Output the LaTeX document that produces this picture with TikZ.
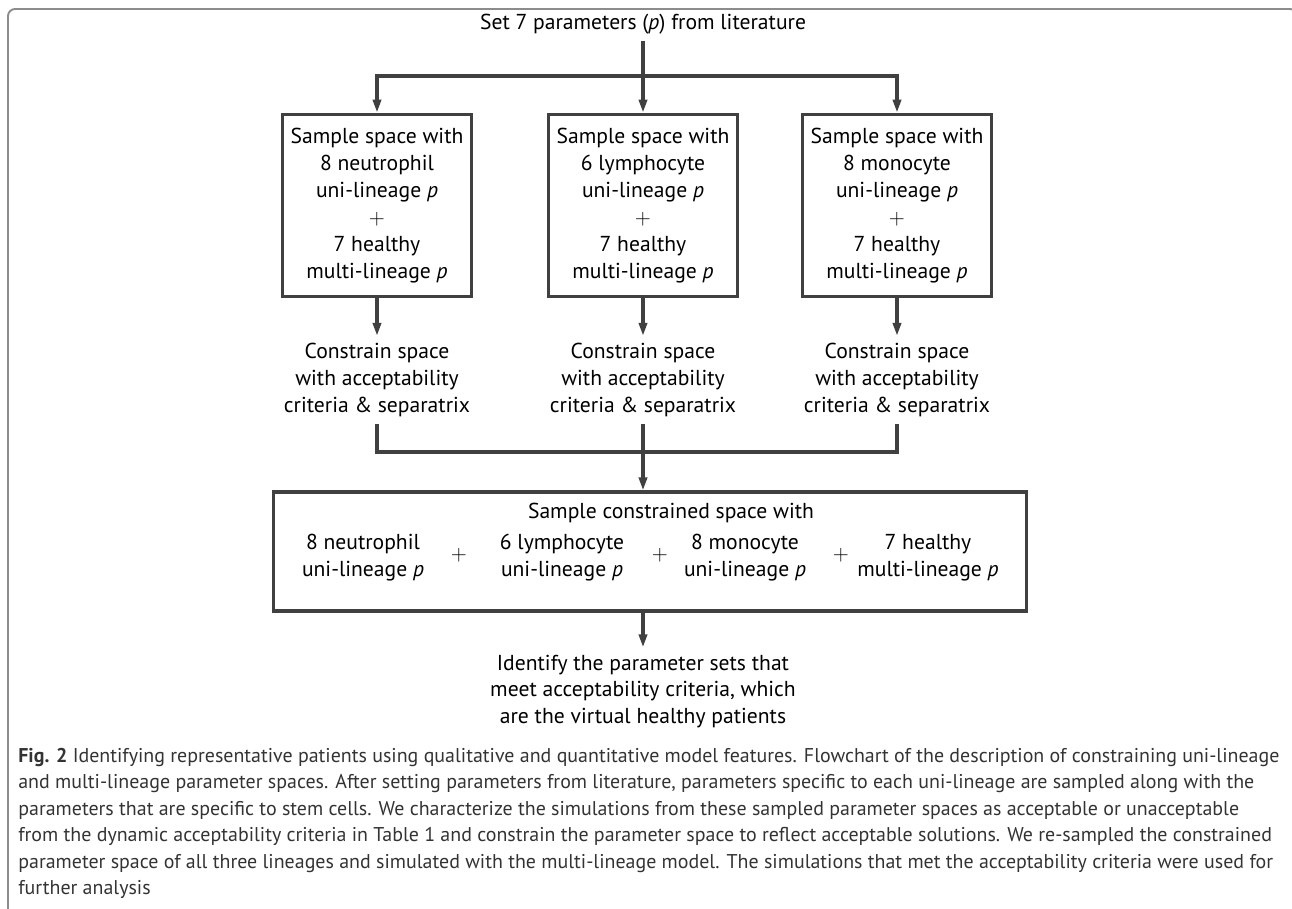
\documentclass[tikz,border=0pt]{standalone}
\usepackage{fontspec}
\setmainfont{PT Sans}
\usetikzlibrary{arrows.meta}
\definecolor{ln}{HTML}{404040}
\definecolor{fr}{HTML}{8C8C8C}
\tikzset{every node/.style={inner sep=4pt,align=center,font=\fontsize{12.3}{15.3}\selectfont}}
\tikzset{box/.style={rectangle,draw=ln,line width=2pt,minimum width=107.7pt,minimum height=103.7pt}}
\tikzset{link/.style={draw=ln,line width=1.9pt}}
\tikzset{arr/.style={link,-{Triangle[length=7.4pt,width=4.6pt]}}}
\tikzset{figcap/.style={align=left,inner sep=0pt,text=black!80,font=\fontsize{11.35}{15}\selectfont}}

\begin{document}
\begin{tikzpicture}[x=0.02cm,y=-0.02cm]
  \useasboundingbox (0,0) rectangle (1292,909);
  \draw[fr,line width=1.1pt,rounded corners=4pt] (8,920) -- (8,9) -- (1297,9) -- (1297,920);
      \node (set) at (643,24) {Set 7 parameters (\textit{p}) from literature};
      \node[box] (bn) at (377,205.5) {Sample space with\\8 neutrophil\\uni-lineage \textit{p}\\$+$\\7 healthy\\multi-lineage \textit{p}};
      \node[box] (bl) at (643,205.5) {Sample space with\\6 lymphocyte\\uni-lineage \textit{p}\\$+$\\7 healthy\\multi-lineage \textit{p}};
      \node[box] (bm) at (897,205.5) {Sample space with\\8 monocyte\\uni-lineage \textit{p}\\$+$\\7 healthy\\multi-lineage \textit{p}};
      \node (cn) at (377,380) {Constrain space\\with acceptability\\criteria \& separatrix};
      \node (cl) at (643,380) {Constrain space\\with acceptability\\criteria \& separatrix};
      \node (cm) at (897,380) {Constrain space\\with acceptability\\criteria \& separatrix};
      \node[box,minimum width=428.6pt,minimum height=67.5pt] (all) at (650,551.5) {};
      \node (head) at (671,513) {Sample constrained space with};
      \node (un) at (363,558) {8 neutrophil\\uni-lineage \textit{p}};
      \node (p1) at (459,555) {$+$};
      \node (ul) at (562,558) {6 lymphocyte\\uni-lineage \textit{p}};
      \node (p2) at (660,555) {$+$};
      \node (um) at (745,558) {8 monocyte\\uni-lineage \textit{p}};
      \node (p3) at (841,555) {$+$};
      \node (uh) at (928,558) {7 healthy\\multi-lineage \textit{p}};
      \node (id) at (643,691.5) {Identify the parameter sets that\\meet acceptability criteria, which\\are the virtual healthy patients};
      \coordinate (s1) at (643,76);
      \coordinate (s2) at (643,452);
        \draw[arr] (set) -- (bl);
        \draw[arr] (s1) -| (bn);
        \draw[arr] (s1) -| (bm);
        \foreach \b/\c in {bn/cn,bl/cl,bm/cm}
          \draw[arr] (\b) -- (\c);
        \draw[link] (cn) |- (s2) -| (cm);
        \draw[arr] (cl) -- (cl |- all.north);
        \draw[arr] (all.south -| id) -- (id);
      \node[figcap,anchor=north west] (fig) at (18,748) {\textbf{Fig. 2} Identifying representative patients using qualitative and quantitative model features. Flowchart of the description of constraining uni-lineage\\
and multi-lineage parameter spaces. After setting parameters from literature, parameters specific to each uni-lineage are sampled along with the\\
parameters that are specific to stem cells. We characterize the simulations from these sampled parameter spaces as acceptable or unacceptable\\
from the dynamic acceptability criteria in Table 1 and constrain the parameter space to reflect acceptable solutions. We re-sampled the constrained\\
parameter space of all three lineages and simulated with the multi-lineage model. The simulations that met the acceptability criteria were used for\\
further analysis};
    \end{tikzpicture}
\end{document}
